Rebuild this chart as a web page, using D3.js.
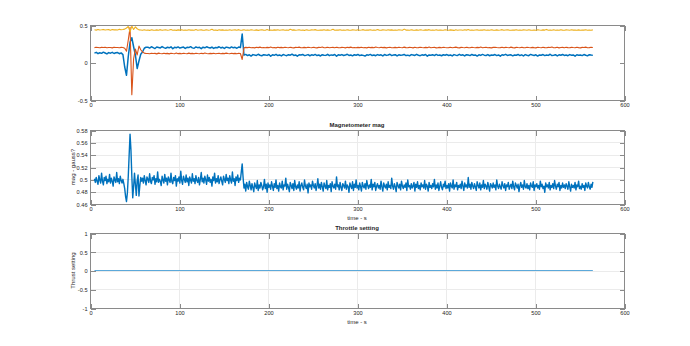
<!DOCTYPE html>
<html>
<head>
<meta charset="utf-8">
<script src="https://cdn.jsdelivr.net/npm/d3@7"></script>
<style>
  body { margin: 0; background: #fff; }
  text { font-family: "Liberation Sans", Arial, sans-serif; fill: #262626; }
</style>
</head>
<body>
<svg id="fig" width="690" height="346"></svg>
<script>
// ---- Sample timing ----
const attStart = 5, attStep = 2;   // magnetometer components, seconds
const magStart = 5, magStep = 1;   // magnitude, seconds

// ---- Magnetometer components (gauss) ----
const magX = [
  .125,.135,.118,.130,.122,.138,.127,.115,.132,.124,.136,.120,.129,.133,.117,.128,
  .105,-.06,-.17,.08,.27,.33,.21,.10,-.08,.02,.11,.14,.19,.205,
  .205,.192,.210,.198,.186,.207,.201,.194,.212,.199,
  .189,.204,.196,.209,.183,.202,.197,.208,.193,.200,
  .206,.188,.203,.199,.211,.195,.190,.207,.198,.202,
  .185,.204,.196,.209,.200,.193,.206,.188,.201,.197,
  .210,.194,.203,.187,.205,.199,.192,.208,.196,.202,
  .190,.206,.199,
  .38,
  .098,.108,.092,.103,.086,.105,.099,.094,.110,.097,
  .089,.104,.100,.095,.107,.083,.102,.096,.109,.093,
  .101,.088,.106,.098,.091,.104,.097,.111,.094,.100,
  .085,.103,.099,.107,.092,.098,.105,.090,.102,.096,
  .108,.093,.100,.087,.104,.098,.095,.109,.091,.101,
  .097,.106,.084,.102,.096,.105,.093,.099,.110,.094,
  .100,.089,.104,.097,.107,.092,.101,.095,.086,.103,
  .098,.108,.093,.100,.091,.105,.097,.102,.088,.106,
  .095,.101,.110,.092,.099,.104,.087,.103,.096,.100,
  .107,.093,.098,.089,.105,.100,.094,.109,.097,.091,
  .102,.096,.106,.085,.101,.098,.104,.092,.108,.095,
  .099,.090,.103,.097,.106,.093,.100,.088,.105,.098,
  .094,.109,.096,.102,.087,.104,.099,.092,.107,.097,
  .101,.086,.103,.095,.108,.098,.093,.105,.090,.100,
  .096,.106,.092,.101,.084,.104,.098,.109,.094,.099,
  .103,.089,.100,.096,.107,.093,.102,.087,.105,.097,
  .091,.108,.099,.094,.103,.086,.101,.097,.106,.092,
  .100,.095,.110,.093,.098,.104,.088,.102,.096,.107,
  .094,.099,.091,.105,.097,.101,.085,.103,.098,.100,
  .092,.106,.096,.089,.104,.099,.095
];

const magY = [
  .198,.203,.200,.196,.202,.199,.204,.197,.201,.200,.195,.203,.199,.201,.197,.202,
  .200,.190,.150,.300,.470,-.430,.050,.180,.100,.220,.170,.140,.125,.120,
  .120,.116,.124,.119,.122,.115,.125,.120,.117,.123,
  .118,.122,.115,.124,.120,.117,.126,.118,.122,.116,
  .123,.119,.117,.125,.118,.122,.116,.124,.120,.117,
  .123,.118,.127,.120,.116,.122,.118,.124,.117,.121,
  .123,.116,.122,.118,.125,.119,.117,.123,.118,.122,
  .116,.124,.120,
  .040,
  .196,.202,.198,.204,.197,.201,.195,.203,.198,.205,
  .197,.201,.196,.202,.198,.206,.197,.201,.195,.203,
  .198,.202,.196,.204,.199,.197,.203,.198,.195,.202,
  .199,.205,.197,.198,.202,.196,.204,.199,.197,.203,
  .198,.195,.202,.199,.206,.197,.198,.203,.196,.201,
  .202,.197,.204,.198,.196,.202,.199,.195,.203,.198,
  .205,.197,.201,.196,.202,.198,.204,.197,.201,.195,
  .203,.198,.202,.196,.206,.199,.197,.203,.198,.202,
  .195,.201,.204,.197,.198,.202,.196,.203,.199,.197,
  .205,.198,.196,.202,.199,.195,.203,.197,.198,.204,
  .199,.196,.202,.198,.206,.197,.201,.203,.195,.198,
  .202,.197,.204,.199,.196,.198,.203,.197,.201,.205,
  .198,.195,.202,.199,.197,.204,.198,.196,.203,.199,
  .197,.202,.198,.206,.196,.201,.203,.197,.198,.195,
  .202,.204,.199,.197,.198,.203,.196,.202,.199,.197,
  .205,.198,.195,.202,.199,.197,.204,.198,.196,.203,
  .199,.197,.202,.198,.195,.204,.199,.197,.203,.198,
  .196,.202,.199,.206,.197,.198,.203,.195,.199,.202,
  .197,.204,.198,.196,.202,.199,.197,.203,.198,.195,
  .202,.199,.205,.197,.198,.203,.199
];

const magZ = [
  .436,.432,.439,.434,.437,.441,.433,.436,.438,.431,.440,.435,.437,.433,.442,.436,
  .440,.445,.460,.480,.410,.485,.440,.475,.450,.435,
  .433,.429,.436,.431,.434,.428,.437,.432,.430,.435,
  .431,.438,.429,.433,.436,.430,.434,.441,.431,.433,
  .428,.435,.432,.437,.430,.433,.429,.436,.432,.434,
  .431,.439,.430,.433,.435,.429,.432,.436,.431,.434,
  .444,.430,.433,.428,.436,.432,.435,.430,.434,.431,
  .437,.429,.433,.435,.431,.438,.430,.432,.436,.429,
  .434,.431,.437,.433,.430,.435,.428,.433,.436,.432,
  .430,.439,.431,.434,.429,.435,.432,.437,.430,.433,
  .436,.431,.434,.429,.442,.432,.435,.430,.433,.437,
  .431,.434,.428,.436,.432,.430,.435,.433,.438,.431,
  .429,.434,.432,.437,.430,.435,.431,.433,.443,.430,
  .434,.432,.436,.429,.433,.431,.437,.432,.430,.435,
  .433,.429,.436,.431,.434,.438,.430,.433,.432,.436,
  .430,.434,.431,.439,.432,.429,.435,.433,.430,.437,
  .432,.435,.429,.434,.431,.436,.433,.430,.445,.432,
  .434,.430,.436,.432,.429,.435,.431,.437,.433,.430,
  .435,.432,.438,.430,.433,.431,.436,.429,.434,.432,
  .431,.437,.433,.430,.435,.432,.428,.436,.431,.434,
  .433,.430,.436,.432,.439,.431,.434,.429,.433,.435,
  .430,.434,.432,.437,.431,.433,.430,.436,.432,.429,
  .435,.431,.434,.438,.430,.433,.436,.432,.429,.434,
  .432,.437,.430,.433,.431,.435,.433,.430,.436,.432,
  .429,.434,.431,.437,.433,.430,.435,.432,.441,.431,
  .433,.430,.436,.431,.434,.429,.437,.432,.430,.435,
  .434,.430,.436,.432,.433,.429,.435,.431,.434,.432,
  .436,.430,.433,.431,.435
];

// ---- Magnetometer magnitude (gauss) ----
const magMag = [
  .501,.495,.503,.497,.492,.506,.499,.494,.510,.497,
  .491,.503,.498,.505,.493,.500,.496,.508,.494,.502,
  .497,.489,.504,.499,.495,.511,.496,.501,.493,.505,
  .498,.494,.500,
  .493,.485,.472,.464,.478,.505,.540,.573,.548,.505,.470,.488,.510,.492,.474,.498,.507,.473,.490,.503,.497,
  .502,.494,.506,.498,.491,.504,.500,.495,.509,.497,
  .493,.503,.499,.506,.492,.501,.496,.512,.495,.500,
  .497,.490,.505,.499,.494,.508,.497,.502,.491,.504,
  .499,.495,.510,.496,.493,.503,.498,.506,.489,.501,
  .497,.504,.494,.513,.498,.492,.505,.500,.495,.507,
  .496,.502,.490,.504,.499,.494,.509,.497,.501,.493,
  .506,.498,.495,.503,.491,.500,.511,.496,.502,.494,
  .505,.499,.492,.507,.497,.503,.495,.500,.489,.504,
  .498,.510,.494,.501,.496,.506,.493,.499,.504,.497,
  .491,.505,.500,.495,.508,.498,.502,.493,.506,.499,
  .494,.512,.497,.501,.490,.504,.498,.507,.495,.502,
  .499,
  .512,.525,.503,
  .486,.492,.481,.495,.488,.484,.497,.490,.483,.493,
  .487,.480,.494,.489,.485,.498,.482,.491,.486,.495,
  .490,.483,.488,.500,.485,.492,.479,.494,.487,.491,
  .484,.496,.489,.482,.493,.487,.499,.485,.490,.481,
  .494,.488,.486,.497,.483,.491,.489,.502,.484,.492,
  .487,.480,.495,.490,.485,.493,.482,.498,.488,.484,
  .491,.486,.496,.481,.490,.494,.487,.483,.499,.489,
  .485,.492,.478,.494,.488,.491,.484,.497,.490,.486,
  .493,.482,.489,.501,.486,.492,.484,.495,.488,.481,
  .494,.489,.485,.498,.483,.490,.487,.493,.480,.496,
  .489,.486,.492,.484,.504,.488,.491,.483,.495,.487,
  .482,.493,.490,.486,.497,.484,.491,.488,.479,.494,
  .489,.485,.496,.482,.492,.487,.499,.486,.490,.483,
  .494,.488,.481,.495,.489,.486,.493,.484,.498,.490,
  .485,.491,.487,.500,.483,.492,.488,.495,.482,.489,
  .493,.486,.490,.484,.497,.488,.481,.494,.489,.486,
  .492,.483,.496,.487,.490,.485,.502,.489,.484,.493,
  .488,.480,.495,.490,.486,.492,.483,.497,.489,.485,
  .491,.487,.494,.482,.499,.488,.490,.484,.493,.486,
  .489,.495,.481,.492,.487,.496,.485,.490,.483,.494,
  .488,.491,.486,.498,.484,.492,.489,.481,.495,.487,
  .490,.485,.493,.488,.500,.484,.491,.486,.494,.482,
  .489,.496,.487,.483,.492,.488,.497,.485,.490,.486,
  .493,.481,.494,.489,.486,.499,.484,.491,.488,.495,
  .483,.490,.487,.492,.485,.497,.489,.482,.494,.488,
  .491,.486,.503,.487,.492,.484,.495,.489,.485,.493,
  .488,.482,.496,.490,.486,.494,.483,.491,.487,.498,
  .485,.492,.489,.484,.495,.488,.481,.493,.490,.486,
  .494,.487,.491,.483,.499,.489,.485,.492,.488,.484,
  .496,.490,.486,.493,.482,.491,.488,.495,.484,.489,
  .492,.485,.497,.488,.483,.494,.490,.486,.492,.480,
  .489,.495,.487,.491,.484,.498,.488,.486,.493,.485,
  .490,.483,.494,.489,.487,.496,.482,.491,.488,.493,
  .486,.490,.484,.497,.488,.492,.485,.489,.479,.494,
  .488,.491,.486,.495,.483,.490,.487,.493,.485,.498,
  .489,.484,.492,.488,.495,.482,.490,.486,.494,.487,
  .491,.485,.493,.489,.484,.496,.488,.481,.492,.487,
  .490,.486,.495,.483,.491,.488,.497,.485,.489,.484,
  .493,.487,.490,.482,.494,.489,.486,.495,.488,.484,
  .492,.487,.496
];

// ---- Throttle ----
const throttleTime = [5, 565];
const throttleValue = [0, 0];

// ---- Axis ticks ----
const xTicks = [0, 100, 200, 300, 400, 500, 600];
const compTicks = [-0.5, 0, 0.5];
const magTicks = [0.46, 0.48, 0.5, 0.52, 0.54, 0.56, 0.58];
const throttleTicks = [-1, -0.5, 0, 0.5, 1];

// ---- Drawing ----
const svg = d3.select('#fig');
const axisColor = '#8a8a8a';
const gridColor = '#ebebeb';
const colors = ['#0072BD', '#D95319', '#EDB120'];
const tickFont = 5.6;

const x = d3.scaleLinear().domain([0, 600]).range([90, 624]);

function drawPanel(opt) {
  const y = d3.scaleLinear().domain(opt.yDomain).range([opt.bottom, opt.top]);
  const g = svg.append('g');

  if (opt.grid) {
    const gg = g.append('g').attr('stroke', gridColor).attr('stroke-width', 1).attr('shape-rendering', 'crispEdges');
    gg.selectAll('line.v').data(xTicks.slice(1, -1)).join('line')
      .attr('x1', d => Math.round(x(d)) + 0.5).attr('x2', d => Math.round(x(d)) + 0.5)
      .attr('y1', opt.top).attr('y2', opt.bottom);
    gg.selectAll('line.h').data(opt.yTicks.slice(1, -1)).join('line')
      .attr('y1', d => Math.round(y(d)) + 0.5).attr('y2', d => Math.round(y(d)) + 0.5)
      .attr('x1', x.range()[0]).attr('x2', x.range()[1]);
  }

  const fmt = d => String(d);

  // bottom axis with labels
  const ax = g.append('g').attr('transform', `translate(0.5,${opt.bottom + 0.5})`)
    .call(d3.axisBottom(x).tickValues(xTicks).tickSize(-5).tickPadding(3).tickFormat(d => d));
  // top axis, ticks only
  const axT = g.append('g').attr('transform', `translate(0.5,${opt.top + 0.5})`)
    .call(d3.axisTop(x).tickValues(xTicks).tickSize(-5).tickFormat(''));
  // left axis with labels
  const ay = g.append('g').attr('transform', `translate(${x.range()[0] + 0.5},0.5)`)
    .call(d3.axisLeft(y).tickValues(opt.yTicks).tickSize(-5).tickPadding(3).tickFormat(fmt));
  // right axis, ticks only
  const ayR = g.append('g').attr('transform', `translate(${x.range()[1] + 0.5},0.5)`)
    .call(d3.axisRight(y).tickValues(opt.yTicks).tickSize(-5).tickFormat(''));

  [ax, axT, ay, ayR].forEach(a => {
    a.select('.domain').remove();
    a.selectAll('line').attr('stroke', axisColor).attr('shape-rendering', 'crispEdges');
    a.selectAll('text').attr('font-size', tickFont).attr('fill', '#262626')
      .attr('font-family', '"Liberation Sans", Arial, sans-serif');
  });

  // data lines
  const clipId = 'clip' + opt.top;
  g.append('clipPath').attr('id', clipId).append('rect')
    .attr('x', x.range()[0]).attr('y', opt.top)
    .attr('width', x.range()[1] - x.range()[0]).attr('height', opt.bottom - opt.top);
  const lg = g.append('g').attr('clip-path', `url(#${clipId})`);
  opt.series.forEach(s => {
    const line = d3.line().x((d, i) => x(s.time ? s.time[i] : s.start + i * s.step)).y(d => y(d));
    lg.append('path').datum(s.values).attr('d', line)
      .attr('fill', 'none').attr('stroke', s.color).attr('stroke-width', s.width)
      .attr('stroke-linejoin', 'round');
  });

  // axes box
  g.append('rect')
    .attr('x', x.range()[0] + 0.5).attr('y', opt.top + 0.5)
    .attr('width', x.range()[1] - x.range()[0]).attr('height', opt.bottom - opt.top)
    .attr('fill', 'none').attr('stroke', axisColor).attr('stroke-width', 1)
    .attr('shape-rendering', 'crispEdges');

  const cx = (x.range()[0] + x.range()[1]) / 2;
  if (opt.title) {
    g.append('text').attr('x', cx).attr('y', opt.top - 3)
      .attr('text-anchor', 'middle').attr('font-size', 6).attr('font-weight', 'bold')
      .attr('fill', '#000').text(opt.title);
  }
  if (opt.xlabel) {
    g.append('text').attr('x', cx).attr('y', opt.bottom + 16)
      .attr('text-anchor', 'middle').attr('font-size', 6).text(opt.xlabel);
  }
  if (opt.ylabel) {
    const cy = (opt.top + opt.bottom) / 2;
    g.append('text').attr('transform', `translate(75,${cy}) rotate(-90)`)
      .attr('text-anchor', 'middle').attr('font-size', 6).text(opt.ylabel);
  }
}

drawPanel({
  top: 25, bottom: 100, yDomain: [-0.5, 0.5], yTicks: compTicks,
  series: [
    { values: magX, start: attStart, step: attStep, color: colors[0], width: 1.5 },
    { values: magY, start: attStart, step: attStep, color: colors[1], width: 1.1 },
    { values: magZ, start: attStart, step: attStep, color: colors[2], width: 1.1 }
  ]
});

drawPanel({
  top: 130, bottom: 204, yDomain: [0.46, 0.58], yTicks: magTicks, grid: true,
  title: 'Magnetometer mag', xlabel: 'time - s', ylabel: 'mag - gauss?',
  series: [
    { values: magMag, start: magStart, step: magStep, color: colors[0], width: 1.4 }
  ]
});

drawPanel({
  top: 233, bottom: 308, yDomain: [-1, 1], yTicks: throttleTicks, grid: true,
  title: 'Throttle setting', xlabel: 'time - s', ylabel: 'Thrust setting',
  series: [
    { values: throttleValue, time: throttleTime, color: '#4a9fd6', width: 0.9 }
  ]
});
</script>
</body>
</html>
